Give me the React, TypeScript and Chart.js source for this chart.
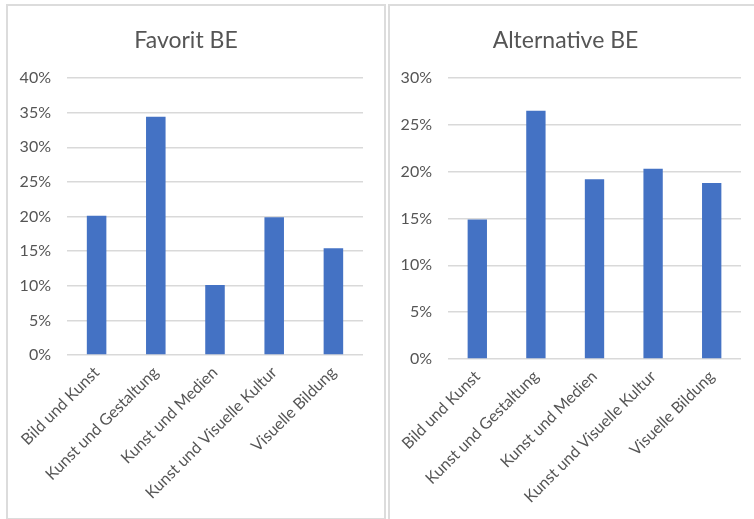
import React, { useEffect, useRef } from "react";
import { Chart, registerables } from "chart.js";

Chart.register(...registerables);

const categories = [
  "Bild und Kunst",
  "Kunst und Gestaltung",
  "Kunst und Medien",
  "Kunst und Visuelle Kultur",
  "Visuelle Bildung",
];
const favoritValues = [20.1, 34.4, 10.1, 19.9, 15.4];
const alternativeValues = [14.9, 26.5, 19.2, 20.3, 18.8];
const favoritTitle = "Favorit BE";
const alternativeTitle = "Alternative BE";
const favoritMax = 40;
const alternativeMax = 30;
const tickStep = 5;

const FONT = "Lato, 'Open Sans', sans-serif";
const TEXT = "#555555";
const GRID = "#d9d9d9";
const BAR = "#4472c4";

type PanelProps = {
  title: string;
  values: number[];
  max: number;
  width: number;
  height: number;
  padRight: number;
  yWidth: number;
  xHeight: number;
};

function BarPanel({ title, values, max, width, height, padRight, yWidth, xHeight }: PanelProps) {
  const ref = useRef<HTMLCanvasElement | null>(null);
  useEffect(() => {
    if (!ref.current) return;
    const chart = new Chart(ref.current, {
      type: "bar",
      data: {
        labels: categories,
        datasets: [
          {
            data: values,
            backgroundColor: BAR,
            borderWidth: 0,
            categoryPercentage: 1,
            barPercentage: 0.33,
          },
        ],
      },
      options: {
        animation: false,
        responsive: false,
        maintainAspectRatio: false,
        layout: { padding: { left: 0, right: padRight, top: 0, bottom: 0 } },
        plugins: {
          legend: { display: false },
          tooltip: { enabled: false },
          title: {
            display: true,
            text: title,
            color: TEXT,
            font: { family: FONT, size: 23, weight: "normal" },
            padding: { top: 20, bottom: 23.4 },
          },
        },
        scales: {
          x: {
            grid: { display: false, drawTicks: false },
            border: { display: false },
            ticks: {
              color: TEXT,
              font: { family: FONT, size: 16 },
              minRotation: 45,
              maxRotation: 45,
              padding: 8,
              autoSkip: false,
            },
            afterFit: (axis: any) => {
              axis.height = xHeight;
            },
          },
          y: {
            min: 0,
            max: max,
            grid: { color: GRID, lineWidth: 1.5, drawTicks: false },
            border: { display: false },
            ticks: {
              stepSize: tickStep,
              color: TEXT,
              font: { family: FONT, size: 16 },
              padding: 16,
              callback: (v: any) => `${v}%`,
            },
            afterFit: (axis: any) => {
              axis.width = yWidth;
            },
          },
        },
      },
    });
    return () => chart.destroy();
  }, [title, values, max, width, height, padRight, yWidth, xHeight]);
  return <canvas ref={ref} width={width} height={height} style={{ width, height, display: "block" }} />;
}

export default function App() {
  return (
    <div
      style={{
        position: "absolute",
        left: 0,
        top: 0,
        width: 754,
        height: 519,
        overflow: "hidden",
        background: "#fff",
      }}
    >
      <div
        style={{
          position: "absolute",
          left: 6,
          top: 4,
          width: 376,
          height: 512,
          border: "2px solid #dcdcdc",
        }}
      />
      <div
        style={{
          position: "absolute",
          left: 388,
          top: 4,
          width: 400,
          height: 540,
          border: "2px solid #dcdcdc",
        }}
      />
      <div style={{ position: "absolute", left: 9, top: 7 }}>
        <BarPanel
          title={favoritTitle}
          values={favoritValues}
          max={favoritMax}
          width={374}
          height={510}
          padRight={20}
          yWidth={58}
          xHeight={162}
        />
      </div>
      <div style={{ position: "absolute", left: 390, top: 7 }}>
        <BarPanel
          title={alternativeTitle}
          values={alternativeValues}
          max={alternativeMax}
          width={364}
          height={510}
          padRight={13}
          yWidth={58}
          xHeight={158}
        />
      </div>
    </div>
  );
}
